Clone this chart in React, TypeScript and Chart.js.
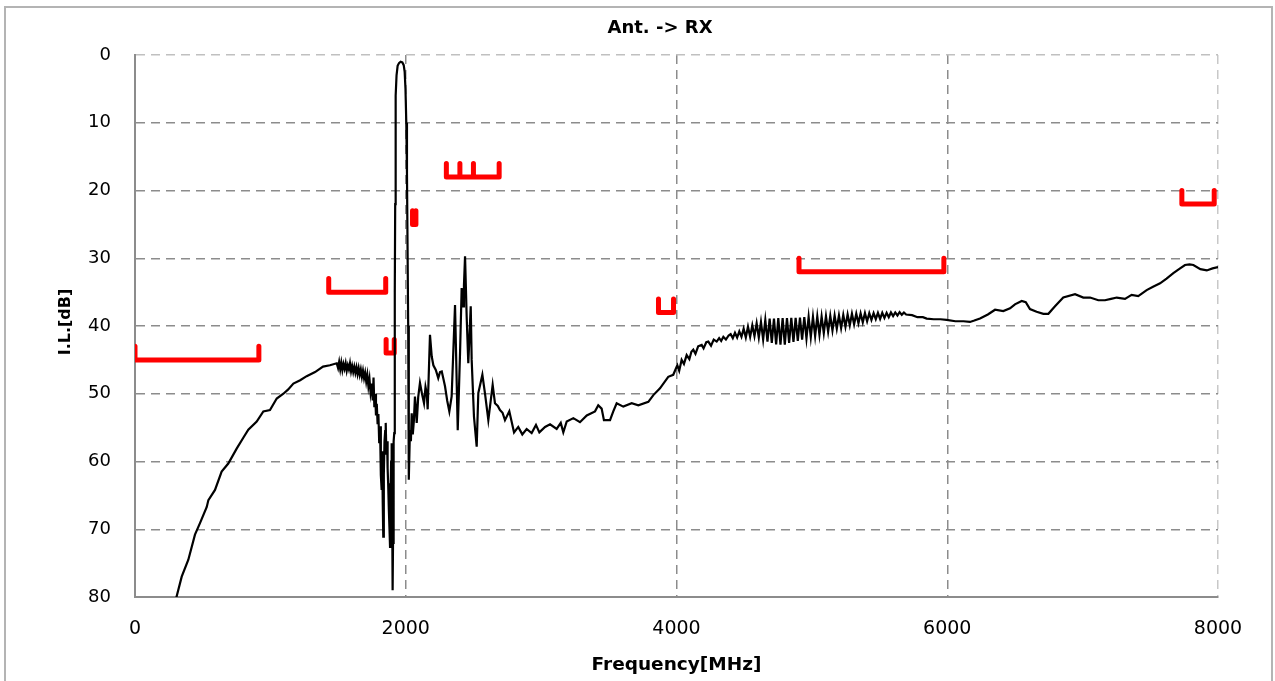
import React, { useEffect, useRef } from "react";
import { Chart, registerables } from "chart.js";

Chart.register(...registerables);

// ---------- text ----------
const chartTitle = "Ant. -> RX";
const xAxisTitle = "Frequency[MHz]";
const yAxisTitle = "I.L.[dB]";

// ---------- axes ----------
const xMin = 0;
const xMax = 8000;
const xStep = 2000;
const yMin = 0;
const yMax = 80;
const yStep = 10;

// ---------- measured curve: [frequency MHz, insertion loss dB] ----------
const lowerStopband: [number, number][] = [
  [300, 80.5], [345, 77.0], [394, 74.5], [443, 70.8], [480, 69.1], [530, 66.7], [542, 65.7],
  [591, 64.2], [640, 61.5], [689, 60.3], [751, 58.1], [800, 56.5], [837, 55.3], [899, 54.1],
  [948, 52.6], [997, 52.4], [1047, 50.7], [1096, 50.0], [1130, 49.4], [1170, 48.5], [1220, 48.0],
  [1268, 47.4], [1330, 46.8], [1389, 46.0], [1440, 45.8], [1490, 45.5],
  [1500, 46.2], [1508, 45.3], [1516, 46.4], [1524, 45.4], [1532, 46.5], [1540, 45.6], [1548, 46.3],
  [1556, 45.5], [1564, 46.6], [1572, 45.8], [1580, 46.4], [1588, 45.5], [1596, 46.7], [1604, 45.9],
  [1612, 46.8], [1620, 46.0], [1628, 46.9], [1636, 46.1], [1644, 47.1], [1652, 46.2], [1660, 47.2],
  [1668, 46.4], [1676, 47.5], [1684, 46.6], [1692, 47.7], [1700, 46.9], [1708, 48.2], [1716, 47.2],
  [1724, 48.9], [1732, 47.8], [1740, 49.8], [1748, 48.5], [1756, 51.0], [1762, 47.6], [1768, 52.0],
  [1774, 50.0], [1780, 53.2], [1786, 51.5], [1792, 54.5], [1798, 53.0],
];

const txNotch: [number, number][] = [
  [1804, 57.3], [1810, 54.8], [1816, 62.0], [1822, 64.2], [1826, 58.5], [1830, 66.0], [1834, 71.1],
  [1838, 62.0], [1843, 57.0], [1848, 55.5], [1852, 54.3], [1857, 59.0], [1862, 57.0], [1866, 61.0],
  [1870, 63.2], [1875, 67.0], [1880, 70.0], [1884, 72.6], [1888, 65.0], [1892, 60.0], [1896, 57.3],
  [1899, 65.0], [1903, 79.0], [1906, 72.0], [1909, 62.0], [1912, 57.0], [1915, 55.8],
];

const passband: [number, number][] = [
  [1918, 45.0], [1920, 35.0], [1922, 22.0], [1924, 12.0], [1927, 6.0], [1932, 3.0], [1940, 1.6],
  [1950, 1.2], [1962, 1.0], [1975, 1.1], [1985, 1.5], [1992, 2.5], [1998, 5.0], [2004, 10.0],
  [2009, 17.5], [2014, 30.0], [2018, 40.0], [2021, 44.0], [2024, 62.7],
];

const upperSpurs: [number, number][] = [
  [2031, 55.4], [2038, 57.0], [2044, 52.9], [2052, 56.0], [2060, 54.0], [2068, 50.4], [2074, 52.0],
  [2081, 54.3], [2092, 50.5], [2105, 48.4], [2120, 50.0], [2135, 51.4], [2146, 49.0], [2155, 49.9],
  [2162, 52.3], [2179, 41.3], [2192, 44.5], [2204, 45.8], [2222, 46.5], [2240, 47.7], [2253, 46.8],
  [2266, 46.7], [2278, 47.8], [2290, 48.9], [2306, 51.0], [2322, 52.6], [2339, 50.4], [2364, 36.9],
  [2384, 55.4], [2401, 44.0], [2413, 34.4], [2425, 37.1], [2430, 34.0], [2438, 29.7], [2450, 38.6],
  [2462, 45.5], [2480, 37.1], [2487, 45.0], [2504, 53.4], [2524, 57.8], [2536, 49.9], [2566, 47.2],
  [2585, 49.9], [2610, 53.9], [2642, 48.7], [2659, 51.4], [2680, 51.8], [2696, 52.4], [2715, 52.8],
  [2733, 53.9], [2765, 52.6], [2800, 55.7], [2831, 54.9], [2861, 56.0], [2893, 55.2], [2930, 55.8],
  [2962, 54.6], [2987, 55.7], [3029, 54.9], [3066, 54.5], [3115, 55.2], [3145, 54.3], [3164, 55.7],
  [3189, 54.1], [3238, 53.6], [3287, 54.2], [3337, 53.2], [3398, 52.6], [3422, 51.7], [3447, 52.2],
  [3464, 53.9], [3509, 53.9], [3533, 52.6], [3558, 51.4], [3607, 51.9], [3669, 51.4], [3718, 51.7],
  [3792, 51.2], [3829, 50.2], [3878, 49.2], [3939, 47.5], [3976, 47.2], [4006, 45.8], [4020, 46.6],
  [4038, 45.0], [4055, 45.6], [4075, 44.3], [4095, 44.9], [4110, 43.8], [4124, 43.5], [4140, 44.1],
  [4160, 43.0], [4186, 42.8], [4200, 43.3], [4220, 42.4], [4235, 42.3], [4255, 42.9], [4275, 42.0],
  [4297, 42.3], [4315, 41.8], [4330, 42.2], [4346, 41.6], [4365, 42.0], [4385, 41.4],
];

const rippleBand: [number, number][] = [
  [4400, 41.2], [4416, 41.8], [4432, 41.0], [4448, 41.7], [4464, 40.8], [4480, 41.6], [4496, 40.4],
  [4512, 41.7], [4528, 40.1], [4544, 41.6], [4560, 39.9], [4576, 41.5], [4592, 39.6], [4608, 41.7],
  [4624, 39.4], [4640, 42.0], [4656, 39.1], [4672, 42.3], [4688, 38.9], [4704, 42.5], [4720, 38.9],
  [4736, 42.7], [4752, 38.85], [4768, 42.75], [4784, 38.85], [4800, 42.75], [4816, 38.85], [4832, 42.5],
  [4848, 38.8], [4864, 42.35], [4880, 38.8], [4896, 42.2], [4912, 38.75], [4928, 42.0], [4944, 38.7],
  [4960, 41.85], [4976, 38.65], [4992, 41.65], [5008, 38.65], [5024, 41.5], [5040, 38.6], [5056, 41.3],
  [5072, 38.6], [5088, 41.05], [5104, 38.55], [5120, 40.85], [5136, 38.5], [5152, 40.65], [5168, 38.45],
  [5184, 40.4], [5200, 38.45], [5216, 40.3], [5232, 38.35], [5248, 40.1], [5264, 38.3], [5280, 39.9],
  [5296, 38.2], [5312, 39.75], [5328, 38.2], [5344, 39.6], [5360, 38.15], [5376, 39.45], [5392, 38.1],
  [5408, 39.3], [5424, 38.1], [5440, 39.1], [5456, 38.1], [5472, 39.0], [5488, 38.05], [5504, 38.95],
  [5520, 38.05], [5536, 38.8], [5552, 38.05], [5568, 38.7], [5584, 38.0], [5600, 38.55], [5616, 38.0],
  [5632, 38.45], [5648, 37.95], [5664, 38.35], [5680, 38.0], [5696, 38.3],
];

const highBand: [number, number][] = [
  [5740, 38.4], [5780, 38.7], [5820, 38.7], [5848, 38.9], [5900, 39.0], [5950, 39.0],
  [5995, 39.1], [6060, 39.3], [6120, 39.3], [6168, 39.4], [6200, 39.2], [6242, 38.9], [6300, 38.3],
  [6353, 37.6], [6414, 37.8], [6464, 37.4], [6500, 36.8], [6550, 36.3], [6580, 36.5], [6611, 37.5],
  [6660, 37.9], [6710, 38.2], [6747, 38.2], [6796, 37.1], [6857, 35.8], [6944, 35.3], [7005, 35.8],
  [7055, 35.8], [7116, 36.2], [7165, 36.2], [7210, 36.0], [7252, 35.8], [7313, 36.0], [7362, 35.4],
  [7411, 35.6], [7473, 34.7], [7520, 34.2], [7572, 33.7], [7620, 33.0], [7670, 32.2], [7720, 31.5],
  [7756, 31.0], [7790, 30.9], [7818, 31.0], [7870, 31.6], [7917, 31.8], [7960, 31.5], [8000, 31.3],
];

// ---------- specification masks (frequency MHz / dB) ----------
const maskLowFreq = [0, 0, 915, 915];
const maskLowDb = [43, 45, 45, 43];
const maskGpsFreq = [1431, 1431, 1852, 1852];
const maskGpsDb = [33, 35, 35, 33];
const maskTxFreq = [1855, 1855, 1915, 1915];
const maskTxDb = [42, 44, 44, 42];
const maskNearFreq = [2050, 2050, 2075, 2075];
const maskNearDb = [23, 25, 25, 23];
const maskIsmFreq = [2300, 2300, 2400, 2400, 2400, 2500, 2500, 2500, 2690, 2690];
const maskIsmDb = [16, 18, 18, 16, 18, 18, 16, 18, 18, 16];
const maskHarm2Freq = [3867, 3867, 3978, 3978];
const maskHarm2Db = [36, 38, 38, 36];
const maskWifiFreq = [4905, 4905, 5975, 5975];
const maskWifiDb = [30, 32, 32, 30];
const maskHarm4Freq = [7733, 7733, 7972, 7972];
const maskHarm4Db = [20, 22, 22, 20];

const maskFreqs = [maskLowFreq, maskGpsFreq, maskTxFreq, maskNearFreq, maskIsmFreq, maskHarm2Freq, maskWifiFreq, maskHarm4Freq];
const maskDbs = [maskLowDb, maskGpsDb, maskTxDb, maskNearDb, maskIsmDb, maskHarm2Db, maskWifiDb, maskHarm4Db];

const curvePoints = [...lowerStopband, ...txNotch, ...passband, ...upperSpurs, ...rippleBand, ...highBand];

const FONT = '"DejaVu Sans", Verdana, sans-serif';

const titlesPlugin = {
  id: "customTitles",
  afterDraw(chart: any) {
    const ctx = chart.ctx as CanvasRenderingContext2D;
    const area = chart.chartArea;
    ctx.save();
    ctx.fillStyle = "#000000";
    ctx.textAlign = "center";
    ctx.textBaseline = "middle";
    ctx.font = "bold 18px " + FONT;
    ctx.fillText(chartTitle, 660, 28);
    ctx.font = "bold 18.5px " + FONT;
    ctx.fillText(xAxisTitle, (area.left + area.right) / 2, 665);
    ctx.translate(66, 322);
    ctx.rotate(-Math.PI / 2);
    ctx.font = "bold 16px " + FONT;
    ctx.fillText(yAxisTitle, 0, 0);
    ctx.restore();
  },
};

export default function App() {
  const canvasRef = useRef<HTMLCanvasElement | null>(null);

  useEffect(() => {
    if (!canvasRef.current) return;
    const maskDatasets = maskFreqs.map((fs, i) => ({
      label: "mask" + i,
      data: fs.map((f, j) => ({ x: f, y: maskDbs[i][j] })),
      borderColor: "#ff0000",
      backgroundColor: "#ff0000",
      borderWidth: 5,
      borderCapStyle: "round" as const,
      borderJoinStyle: "round" as const,
      pointRadius: 0,
      showLine: true,
      fill: false,
      tension: 0,
      order: 2,
    }));

    const chart = new Chart(canvasRef.current, {
      type: "scatter",
      data: {
        datasets: [
          {
            label: "Ant. -> RX",
            data: curvePoints.map(([f, db]) => ({ x: f, y: db })),
            borderColor: "#000000",
            backgroundColor: "#000000",
            borderWidth: 2.2,
            pointRadius: 0,
            showLine: true,
            fill: false,
            tension: 0,
            order: 1,
          },
          ...maskDatasets,
        ],
      },
      options: {
        responsive: false,
        animation: false,
        devicePixelRatio: 1,
        layout: { padding: { top: 55, right: 57, left: 0, bottom: 0 } },
        plugins: {
          legend: { display: false },
          title: { display: false },
          tooltip: { enabled: false },
        },
        scales: {
          x: {
            type: "linear",
            min: xMin,
            max: xMax,
            afterFit: (s: any) => {
              s.height = 84;
            },
            ticks: {
              stepSize: xStep,
              padding: 21,
              maxRotation: 0,
              color: "#000000",
              font: { family: FONT, size: 19 },
              callback: (v: any) => String(v),
            },
            grid: {
              drawTicks: false,
              lineWidth: 1.5,
              color: (c: any) => (c.tick && c.tick.value === xMax ? "#c8c8c8" : "#8c8c8c"),
            },
            border: { display: true, color: "#8c8c8c", width: 2, dash: [9, 6] },
          },
          y: {
            type: "linear",
            min: yMin,
            max: yMax,
            reverse: true,
            afterFit: (s: any) => {
              s.width = 135;
            },
            ticks: {
              stepSize: yStep,
              padding: 24,
              color: "#000000",
              font: { family: FONT, size: 18 },
              callback: (v: any) => String(v),
            },
            grid: {
              drawTicks: false,
              lineWidth: 1.5,
              color: (c: any) => (c.tick && c.tick.value === yMin ? "#c0c0c0" : "#8c8c8c"),
            },
            border: { display: true, color: "#8c8c8c", width: 2, dash: [9, 6] },
          },
        },
      },
      plugins: [titlesPlugin],
    });
    return () => chart.destroy();
  }, []);

  return (
    <div style={{ position: "fixed", left: 0, top: 0, width: 1275, height: 681, background: "#ffffff", overflow: "hidden" }}>
      <div
        style={{
          position: "absolute",
          left: 4,
          top: 6,
          width: 1269,
          height: 700,
          boxSizing: "border-box",
          border: "2px solid #b4b4b4",
        }}
      />
      <canvas ref={canvasRef} width={1275} height={681} style={{ position: "absolute", left: 0, top: 0 }} />
    </div>
  );
}
